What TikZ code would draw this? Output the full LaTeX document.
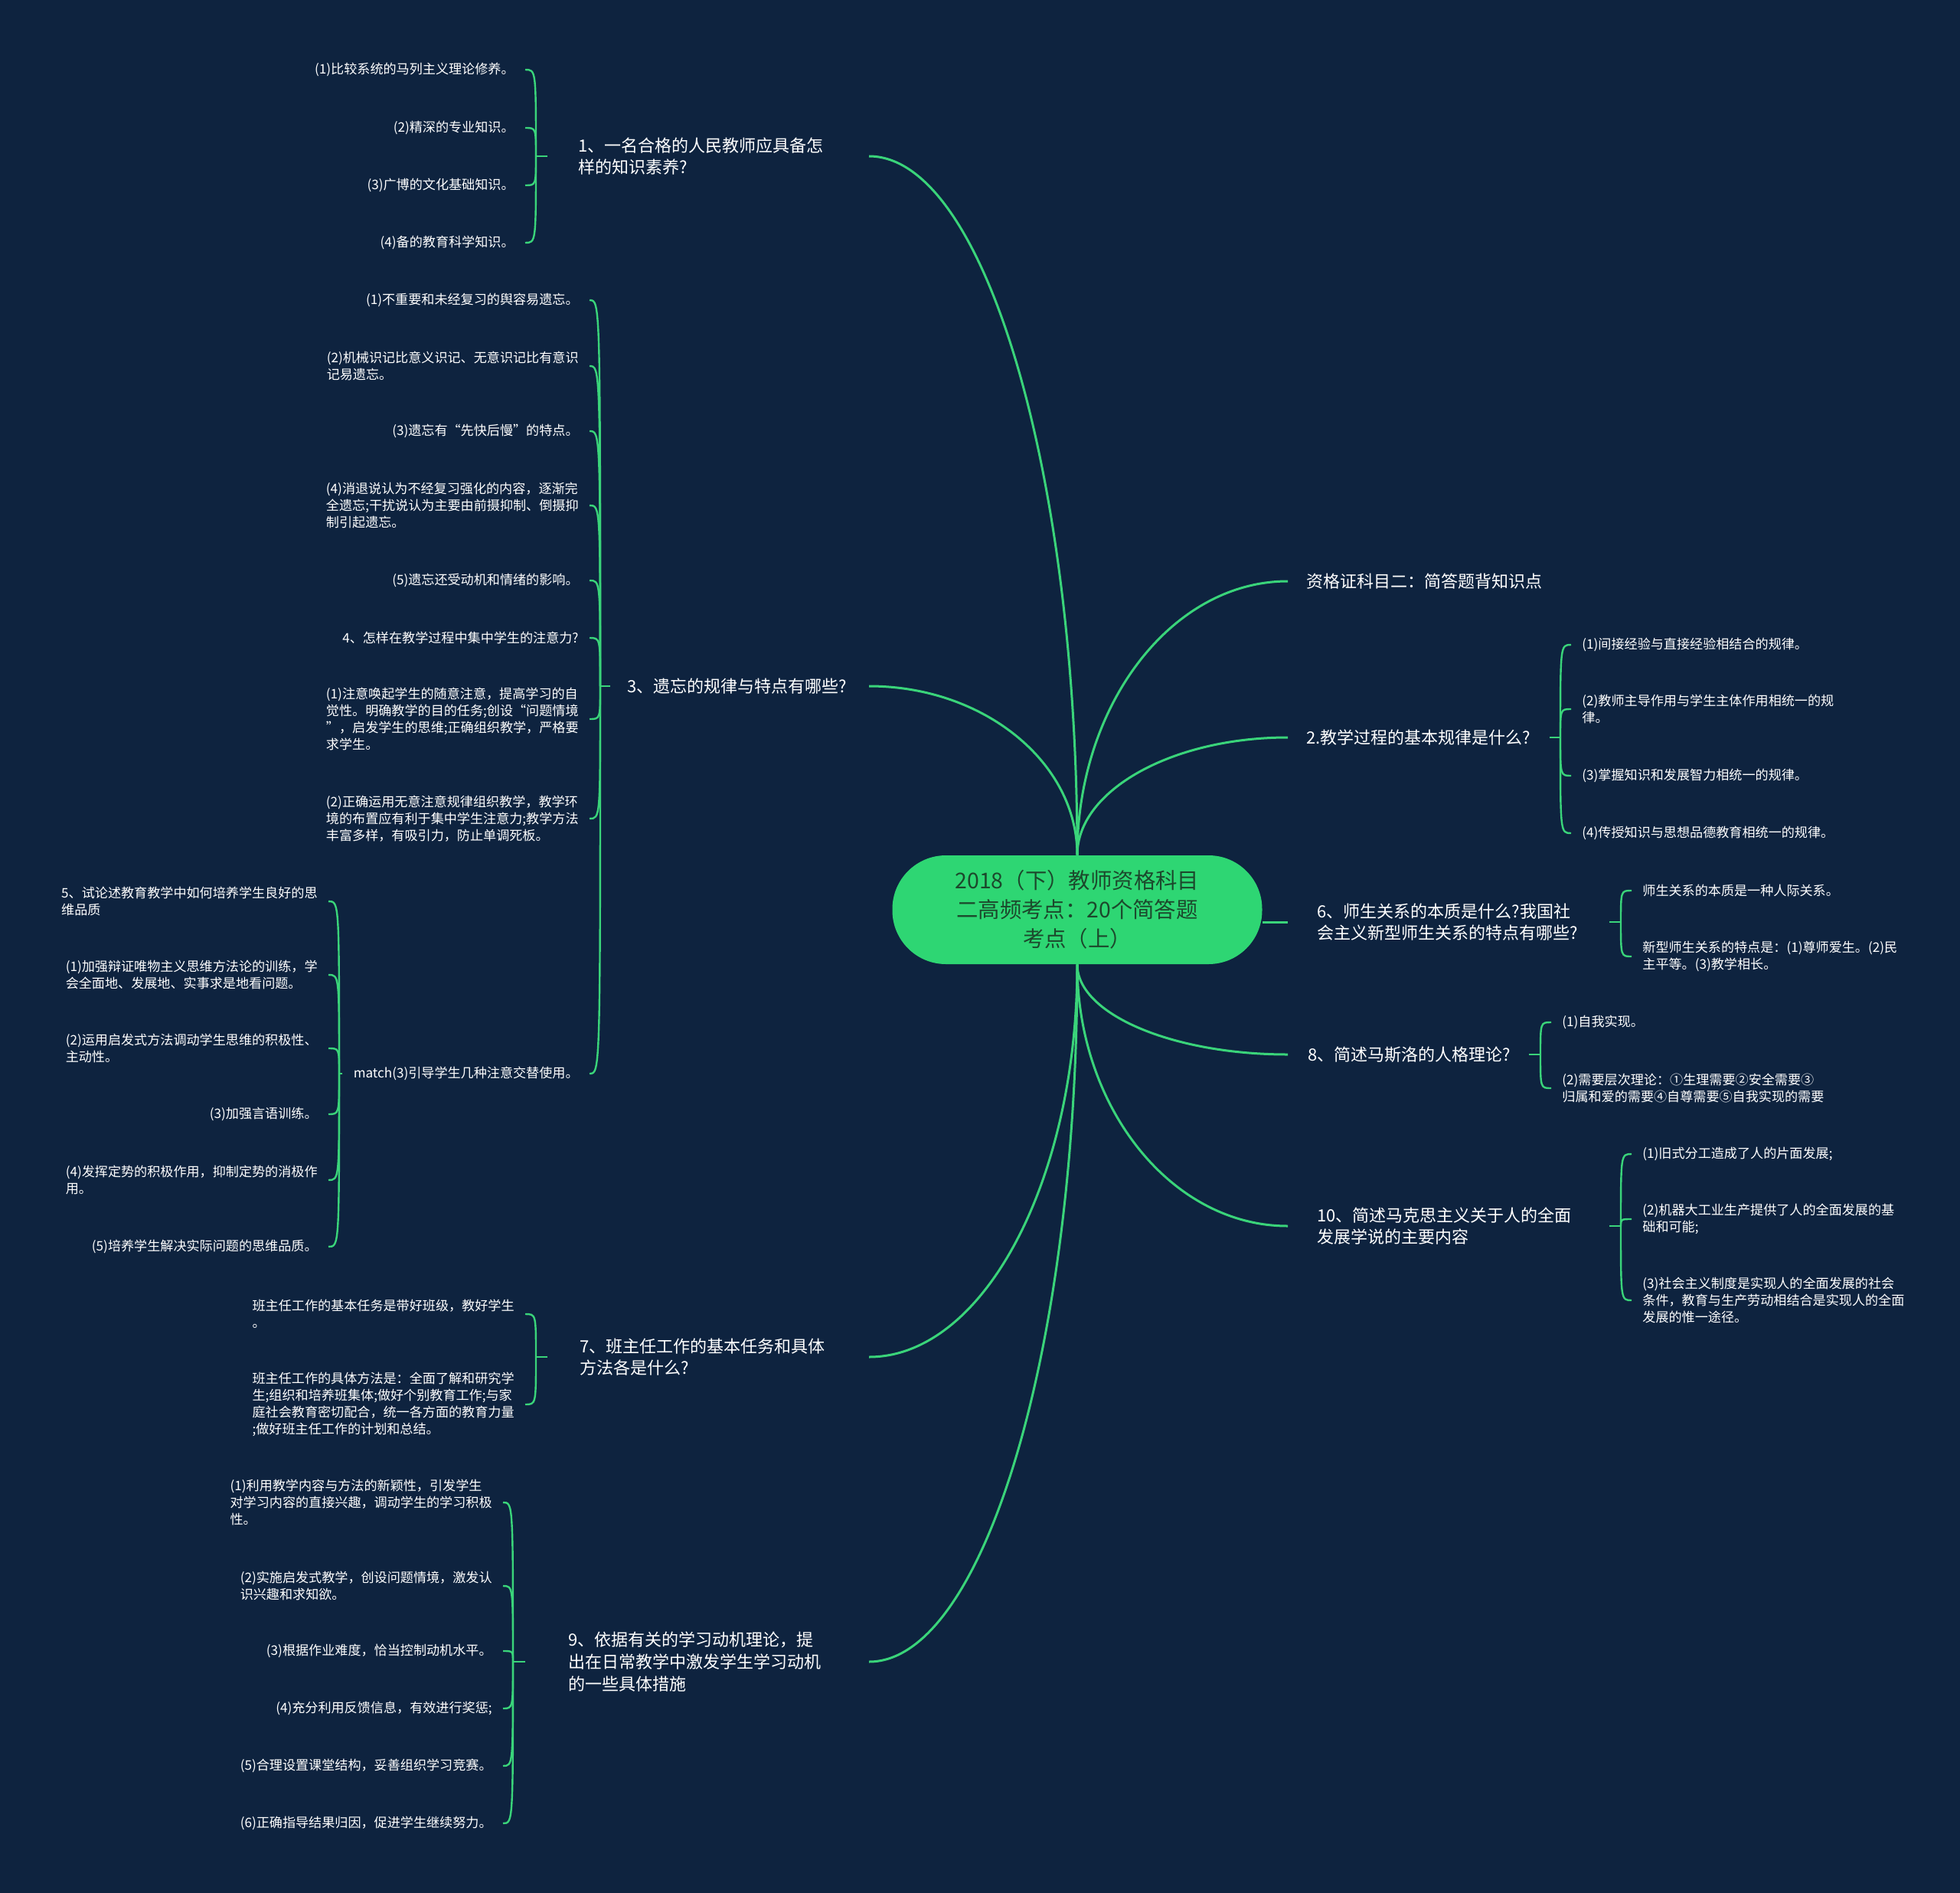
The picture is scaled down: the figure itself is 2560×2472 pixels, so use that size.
\documentclass[tikz,border=0pt]{standalone}
\usepackage{fontspec}
\setmainfont{Noto Sans CJK SC}
\usepackage{tikz}
\usetikzlibrary{calc,positioning}
\definecolor{sfondo}{RGB}{14,35,63}
\definecolor{verde}{RGB}{58,212,122}
\definecolor{verdenodo}{RGB}{46,214,115}
\definecolor{verdescuro}{RGB}{28,72,44}

\tikzset{
  radice/.style={fill=verdenodo, rounded corners=35pt, minimum width=241.5pt, minimum height=71pt,
    align=center, text=verdescuro, font=\fontsize{14.2}{19}\selectfont},
  ramo/.style={text=white, align=left, inner xsep=12pt, font=\fontsize{11}{14.3}\selectfont},
  foglia/.style={text=white, align=left, inner xsep=7pt, font=\fontsize{8.55}{11}\selectfont},
  tronco/.style={draw=verde, line width=1.5pt,
    to path={.. controls ($(\tikztostart)!0.55!(\tikztostart |- \tikztotarget)$)
      and ($(\tikztotarget)!0.55!(\tikztostart |- \tikztotarget)$) .. (\tikztotarget)}},
  graffa/.style={draw=verde, line width=1.2pt,
    to path={.. controls (\tikztostart |- \tikztotarget) .. (\tikztotarget)}}
}

\begin{document}
\begin{tikzpicture}[x=0.5pt, y=-0.5pt]
\fill[sfondo] (0,0) rectangle (2560,2472);
\useasboundingbox (0,0) rectangle (2560,2472);
% Centro
\node[radice] (c) at (1407,1188) {2018（下）教师资格科目\\二高频考点：20个简答题\\考点（上）};
% Rami a sinistra
\node[ramo, anchor=east, inner xsep=20pt, text width=169.5pt] (p1) at (1135,204) {1、一名合格的人民教师应具备怎\\样的知识素养?};
\node[ramo, anchor=east, inner xsep=11pt, text width=146.5pt] (p3) at (1135,896) {3、遗忘的规律与特点有哪些?};
\node[ramo, anchor=east, inner xsep=21pt, text width=167.5pt] (p7) at (1135,1772) {7、班主任工作的基本任务和具体\\方法各是什么?};
\node[ramo, anchor=east, inner xsep=28pt, text width=168pt] (p9) at (1135,2170) {9、依据有关的学习动机理论，提\\出在日常教学中激发学生学习动机\\的一些具体措施};
% Rami a destra
\node[ramo, anchor=west, text width=160pt] (r0) at (1682,759) {资格证科目二：简答题背知识点};
\node[ramo, anchor=west, text width=146.5pt] (r2) at (1682,963) {2.教学过程的基本规律是什么?};
\node[ramo, anchor=west, inner xsep=19pt, text width=171.5pt] (r6) at (1682,1204) {6、师生关系的本质是什么?我国社\\会主义新型师生关系的特点有哪些?};
\node[ramo, anchor=west, inner xsep=13pt, text width=131pt] (r8) at (1682,1377) {8、简述马斯洛的人格理论?};
\node[ramo, anchor=west, inner xsep=19pt, text width=171.5pt] (r10) at (1682,1601) {10、简述马克思主义关于人的全面\\发展学说的主要内容};
% Collegamenti dal centro
\draw[tronco] (c.north) to (p1.east);
\draw[tronco] (c.north) to (p3.east);
\draw[tronco] (c.south) to (p7.east);
\draw[tronco] (c.south) to (p9.east);
\draw[tronco] (c.north) to (r0.west);
\draw[tronco] (c.north) to (r2.west);
\draw[tronco] (r6.west -| c.east) -- (r6.west);
\draw[tronco] (c.south) to (r8.west);
\draw[tronco] (c.south) to (r10.west);
% Foglie di 1
\node[foglia, anchor=east] (a1) at (686,91) {(1)比较系统的马列主义理论修养。};
\node[foglia, anchor=east] (a2) at (686,167) {(2)精深的专业知识。};
\node[foglia, anchor=east] (a3) at (686,242) {(3)广博的文化基础知识。};
\node[foglia, anchor=east] (a4) at (686,317) {(4)备的教育科学知识。};
\coordinate (j1) at (700,204);
\draw[graffa] (p1.west) -- (j1);
\draw[graffa] (j1) to (a1.east); \draw[graffa] (j1) to (a2.east);
\draw[graffa] (j1) to (a3.east); \draw[graffa] (j1) to (a4.east);
% Foglie di 3
\node[foglia, anchor=east] (b1) at (770,392) {(1)不重要和未经复习的舆容易遗忘。};
\node[foglia, anchor=east] (b2) at (770,478) {(2)机械识记比意义识记、无意识记比有意识\\记易遗忘。};
\node[foglia, anchor=east] (b3) at (770,563) {(3)遗忘有“先快后慢”的特点。};
\node[foglia, anchor=east] (b4) at (770,660) {(4)消退说认为不经复习强化的内容，逐渐完\\全遗忘;干扰说认为主要由前摄抑制、倒摄抑\\制引起遗忘。};
\node[foglia, anchor=east] (b5) at (770,758) {(5)遗忘还受动机和情绪的影响。};
\node[foglia, anchor=east] (b6) at (770,833) {4、怎样在教学过程中集中学生的注意力?};
\node[foglia, anchor=east] (b7) at (770,939) {(1)注意唤起学生的随意注意，提高学习的自\\觉性。明确教学的目的任务;创设“问题情境\\”，启发学生的思维;正确组织教学，严格要\\求学生。};
\node[foglia, anchor=east] (b8) at (770,1069) {(2)正确运用无意注意规律组织教学，教学环\\境的布置应有利于集中学生注意力;教学方法\\丰富多样，有吸引力，防止单调死板。};
\node[foglia, anchor=east] (m) at (770,1402) {match(3)引导学生几种注意交替使用。};
\coordinate (j3) at (784,896);
\draw[graffa] (p3.west) -- (j3);
\draw[graffa] (j3) to (b1.east); \draw[graffa] (j3) to (b2.east); \draw[graffa] (j3) to (b3.east);
\draw[graffa] (j3) to (b4.east); \draw[graffa] (j3) to (b5.east); \draw[graffa] (j3) to (b6.east);
\draw[graffa] (j3) to (b7.east); \draw[graffa] (j3) to (b8.east); \draw[graffa] (j3) to (m.east);
% Foglie di match
\node[foglia, anchor=east] (m1) at (429,1177) {5、试论述教育教学中如何培养学生良好的思\\维品质};
\node[foglia, anchor=east] (m2) at (429,1273) {(1)加强辩证唯物主义思维方法论的训练，学\\会全面地、发展地、实事求是地看问题。};
\node[foglia, anchor=east] (m3) at (429,1369) {(2)运用启发式方法调动学生思维的积极性、\\主动性。};
\node[foglia, anchor=east] (m4) at (429,1455) {(3)加强言语训练。};
\node[foglia, anchor=east] (m5) at (429,1541) {(4)发挥定势的积极作用，抑制定势的消极作\\用。};
\node[foglia, anchor=east] (m6) at (429,1628) {(5)培养学生解决实际问题的思维品质。};
\coordinate (jm) at (443,1402);
\draw[graffa] (m.west) -- (jm);
\draw[graffa] (jm) to (m1.east); \draw[graffa] (jm) to (m2.east); \draw[graffa] (jm) to (m3.east);
\draw[graffa] (jm) to (m4.east); \draw[graffa] (jm) to (m5.east); \draw[graffa] (jm) to (m6.east);
% Foglie di 7
\node[foglia, anchor=east] (d1) at (686,1716) {班主任工作的基本任务是带好班级，教好学生\\。};
\node[foglia, anchor=east] (d2) at (686,1834) {班主任工作的具体方法是：全面了解和研究学\\生;组织和培养班集体;做好个别教育工作;与家\\庭社会教育密切配合，统一各方面的教育力量\\;做好班主任工作的计划和总结。};
\coordinate (j7) at (700,1772);
\draw[graffa] (p7.west) -- (j7);
\draw[graffa] (j7) to (d1.east); \draw[graffa] (j7) to (d2.east);
% Foglie di 9
\node[foglia, anchor=east] (e1) at (657,1962) {(1)利用教学内容与方法的新颖性，引发学生\\对学习内容的直接兴趣，调动学生的学习积极\\性。};
\node[foglia, anchor=east] (e2) at (657,2071) {(2)实施启发式教学，创设问题情境，激发认\\识兴趣和求知欲。};
\node[foglia, anchor=east] (e3) at (657,2156) {(3)根据作业难度，恰当控制动机水平。};
\node[foglia, anchor=east] (e4) at (657,2231) {(4)充分利用反馈信息，有效进行奖惩;};
\node[foglia, anchor=east] (e5) at (657,2306) {(5)合理设置课堂结构，妥善组织学习竞赛。};
\node[foglia, anchor=east] (e6) at (657,2381) {(6)正确指导结果归因，促进学生继续努力。};
\coordinate (j9) at (670,2170);
\draw[graffa] (p9.west) -- (j9);
\draw[graffa] (j9) to (e1.east); \draw[graffa] (j9) to (e2.east); \draw[graffa] (j9) to (e3.east);
\draw[graffa] (j9) to (e4.east); \draw[graffa] (j9) to (e5.east); \draw[graffa] (j9) to (e6.east);
% Foglie di 2
\node[foglia, anchor=west] (f1) at (2052,842) {(1)间接经验与直接经验相结合的规律。};
\node[foglia, anchor=west] (f2) at (2052,926) {(2)教师主导作用与学生主体作用相统一的规\\律。};
\node[foglia, anchor=west] (f3) at (2052,1013) {(3)掌握知识和发展智力相统一的规律。};
\node[foglia, anchor=west] (f4) at (2052,1088) {(4)传授知识与思想品德教育相统一的规律。};
\coordinate (j2) at (2038,963);
\draw[graffa] (r2.east) -- (j2);
\draw[graffa] (j2) to (f1.west); \draw[graffa] (j2) to (f2.west);
\draw[graffa] (j2) to (f3.west); \draw[graffa] (j2) to (f4.west);
% Foglie di 6
\node[foglia, anchor=west] (g1) at (2131,1163) {师生关系的本质是一种人际关系。};
\node[foglia, anchor=west] (g2) at (2131,1249) {新型师生关系的特点是：(1)尊师爱生。(2)民\\主平等。(3)教学相长。};
\coordinate (j6) at (2117,1204);
\draw[graffa] (r6.east) -- (j6);
\draw[graffa] (j6) to (g1.west); \draw[graffa] (j6) to (g2.west);
% Foglie di 8
\node[foglia, anchor=west] (h1) at (2026,1335) {(1)自我实现。};
\node[foglia, anchor=west] (h2) at (2026,1421) {(2)需要层次理论：①生理需要②安全需要③\\归属和爱的需要④自尊需要⑤自我实现的需要};
\coordinate (j8) at (2012,1377);
\draw[graffa] (r8.east) -- (j8);
\draw[graffa] (j8) to (h1.west); \draw[graffa] (j8) to (h2.west);
% Foglie di 10
\node[foglia, anchor=west] (k1) at (2131,1507) {(1)旧式分工造成了人的片面发展;};
\node[foglia, anchor=west] (k2) at (2131,1592) {(2)机器大工业生产提供了人的全面发展的基\\础和可能;};
\node[foglia, anchor=west] (k3) at (2131,1698) {(3)社会主义制度是实现人的全面发展的社会\\条件，教育与生产劳动相结合是实现人的全面\\发展的惟一途径。};
\coordinate (j10) at (2117,1601);
\draw[graffa] (r10.east) -- (j10);
\draw[graffa] (j10) to (k1.west); \draw[graffa] (j10) to (k2.west); \draw[graffa] (j10) to (k3.west);
\end{tikzpicture}
\end{document}
